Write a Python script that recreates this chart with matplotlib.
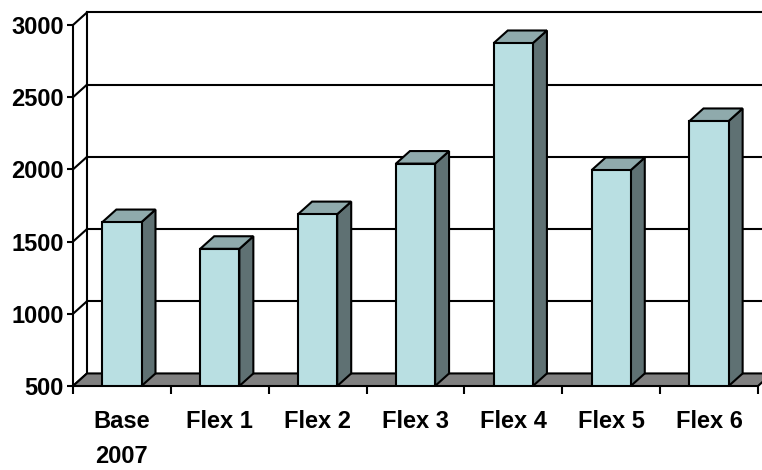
import numpy as np
import matplotlib.pyplot as plt
from matplotlib.patches import Polygon

plt.rcParams['font.family'] = ['Liberation Sans', 'DejaVu Sans']

categories = ['Base\n2007', 'Flex 1', 'Flex 2', 'Flex 3', 'Flex 4', 'Flex 5', 'Flex 6']
values = [1635, 1450, 1690, 2040, 2875, 1995, 2335]
y_ticks = [500, 1000, 1500, 2000, 2500, 3000]

FLOOR = 500
DX, DY = 0.143, 87          # depth offset of the back plane, in data units
BAR_W = 0.4
FRONT = '#b9dfe2'
SIDE = '#5f7173'
TOP = '#8faaac'
LW = 1.5

fig = plt.figure(figsize=(7.62, 4.70), dpi=100)
ax = fig.add_axes([73 / 762, 1 - 386 / 470, 685 / 762, 361 / 470])
ax.set_xlim(-0.5, 6.5)
ax.set_ylim(FLOOR, 3000)

x = np.arange(len(categories))
left, right = -0.5, len(categories) - 0.5

# back wall gridlines, side wall and its diagonals
for v in y_ticks[1:]:
    ax.plot([left + DX, right + DX], [v + DY, v + DY], color='black', lw=LW,
            clip_on=False, zorder=1)
for v in y_ticks:
    ax.plot([left, left + DX], [v, v + DY], color='black', lw=LW,
            clip_on=False, zorder=1)
ax.plot([left + DX, left + DX], [FLOOR + DY, y_ticks[-1] + DY], color='black',
        lw=LW, clip_on=False, zorder=1)

# floor
floor = Polygon([(left, FLOOR), (right, FLOOR), (right + DX, FLOOR + DY),
                 (left + DX, FLOOR + DY)], closed=True, facecolor='#808080',
                edgecolor='black', lw=LW, clip_on=False, zorder=2)
ax.add_patch(floor)

# columns: front faces, then side and top faces
ax.bar(x, np.array(values) - FLOOR, bottom=FLOOR, width=BAR_W, color=FRONT,
       edgecolor='black', linewidth=LW, zorder=4)
for xi, v in zip(x, values):
    l, r = xi - BAR_W / 2, xi + BAR_W / 2
    side = Polygon([(r, FLOOR), (r, v), (r + DX, v + DY), (r + DX, FLOOR + DY)],
                   closed=True, facecolor=SIDE, edgecolor='black', lw=LW,
                   clip_on=False, zorder=3)
    top = Polygon([(l, v), (r, v), (r + DX, v + DY), (l + DX, v + DY)],
                  closed=True, facecolor=TOP, edgecolor='black', lw=LW,
                  clip_on=False, zorder=3)
    ax.add_patch(side)
    ax.add_patch(top)

for s in ['top', 'right', 'bottom']:
    ax.spines[s].set_visible(False)
ax.spines['left'].set_linewidth(LW)
ax.spines['left'].set_zorder(1)

ax.set_yticks(y_ticks)
ax.set_yticklabels([str(t) for t in y_ticks], fontsize=17, fontweight='bold')
ax.tick_params(axis='y', length=4.3, width=LW, pad=2.5)

ax.set_xticks(np.arange(left, right + 0.01, 1.0))
ax.set_xticklabels([])
ax.tick_params(axis='x', which='major', length=5.8, width=LW)
ax.set_xticks(x, minor=True)
ax.set_xticklabels(categories, minor=True, fontsize=17, fontweight='bold',
                   linespacing=1.7)
ax.tick_params(axis='x', which='minor', length=0, pad=17)

fig.savefig('out.png', dpi=100)
